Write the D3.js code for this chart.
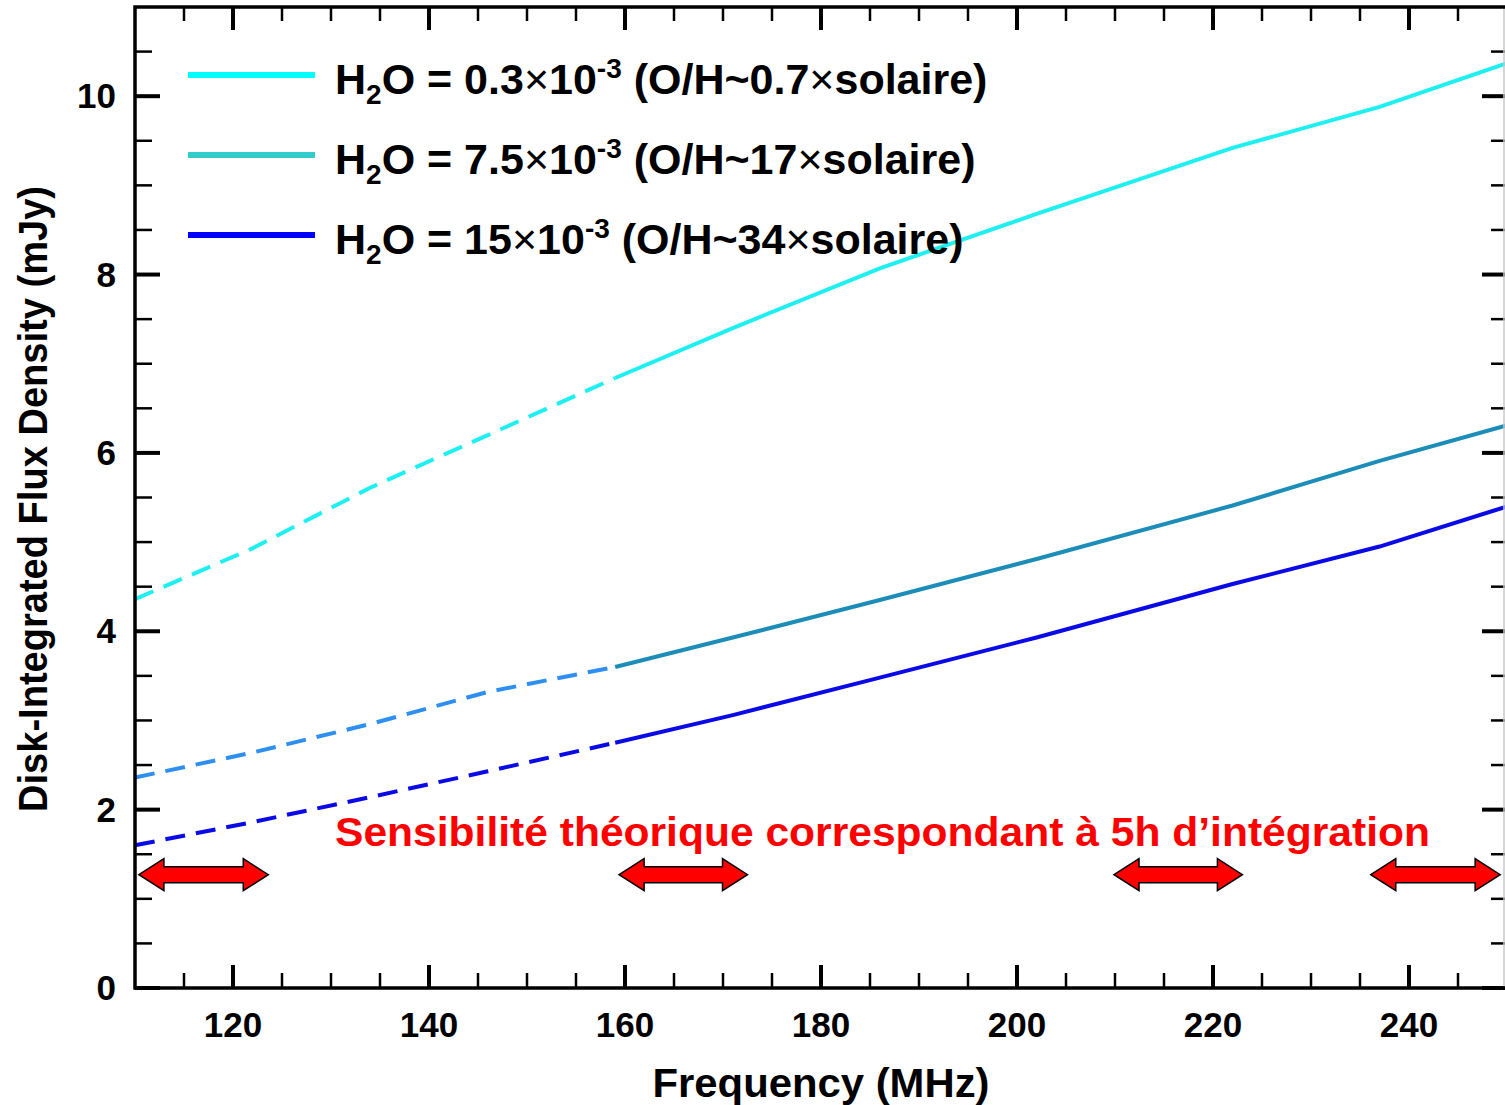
<!DOCTYPE html>
<html>
<head>
<meta charset="utf-8">
<script src="https://cdn.jsdelivr.net/npm/d3@7"></script>
<style>
  body { margin: 0; background: white; }
  svg { display: block; font-family: Arial, "Liberation Sans", sans-serif; font-weight: bold; }
</style>
</head>
<body>
<div id="chart"></div>
<script>
// frequency samples (MHz)
var freqs = [110, 122, 134, 146, 159, 171, 186, 202, 222, 237, 250];

// disk-integrated flux density (mJy) for each water abundance
var flux_low  = [4.36, 4.93, 5.61, 6.20, 6.84, 7.40, 8.07, 8.68, 9.42, 9.88, 10.37];
var flux_mid  = [2.36, 2.64, 2.96, 3.32, 3.60, 3.93, 4.35, 4.81, 5.41, 5.91, 6.31];
var flux_high = [1.60, 1.86, 2.14, 2.43, 2.75, 3.06, 3.48, 3.93, 4.53, 4.95, 5.40];

// below this frequency the curves are dashed
var dash_limit = 159;

// sensitivity arrows (start / end frequency) and level
var arrow_start = [110.4, 159.4, 209.9, 236.1];
var arrow_end   = [123.6, 172.5, 223.0, 249.3];
var sens_level  = 1.27;

var legend_abund = ['0.3', '7.5', '15'];
var legend_ratio = ['0.7', '17', '34'];

var x_ticks = [120, 140, 160, 180, 200, 220, 240];
var y_ticks = [0, 2, 4, 6, 8, 10];

var width = 1505, height = 1105;

var svg = d3.select('#chart').append('svg')
    .attr('width', width)
    .attr('height', height);

var x = d3.scaleLinear().domain([110, 250]).range([135, 1507]);
var y = d3.scaleLinear().domain([0, 11]).range([988, 7]);

var series = [
    {vals: flux_low,  dash_col: '#1ef0f2', solid_col: '#1ef0f2', leg_col: '#00ffff'},
    {vals: flux_mid,  dash_col: '#2e8ff0', solid_col: '#1c8db8', leg_col: '#33cccc'},
    {vals: flux_high, dash_col: '#0a0ae6', solid_col: '#0a0ae6', leg_col: '#0000ff'}
];

//draw curves
var line = d3.line()
    .x(function(d) {return x(d.f);})
    .y(function(d) {return y(d.v);});

series.forEach(function(s) {
    var pts = freqs.map(function(f, i) {return {f: f, v: s.vals[i]};});
    var dashed = pts.filter(function(d) {return d.f <= dash_limit;});
    var solid = pts.filter(function(d) {return d.f >= dash_limit;});

    svg.append('path')
        .datum(dashed)
        .attr('d', line)
        .style('fill', 'none')
        .style('stroke', s.dash_col)
        .style('stroke-width', 4)
        .style('stroke-dasharray', '20,11');

    svg.append('path')
        .datum(solid)
        .attr('d', line)
        .style('fill', 'none')
        .style('stroke', s.solid_col)
        .style('stroke-width', 4);
});

//frame and ticks
var x_minor = d3.range(115, 250, 5).filter(function(f) {return f % 20 != 0;});
var y_minor = d3.range(0.5, 11, 0.5).filter(function(v) {return v % 2 != 0;});

function tick_lines(cls, data, fn, w) {
    svg.selectAll('.' + cls)
        .data(data)
        .enter()
        .append('line')
        .attr('class', cls)
        .each(fn)
        .style('stroke', 'black')
        .style('stroke-width', w);
}

// bottom / top
tick_lines('xb_major', x_ticks, function(d) {
    d3.select(this).attr('x1', x(d)).attr('x2', x(d)).attr('y1', 988).attr('y2', 965);
}, 4);
tick_lines('xb_minor', x_minor, function(d) {
    d3.select(this).attr('x1', x(d)).attr('x2', x(d)).attr('y1', 988).attr('y2', 973);
}, 2.5);
tick_lines('xt_major', x_ticks, function(d) {
    d3.select(this).attr('x1', x(d)).attr('x2', x(d)).attr('y1', 7).attr('y2', 30);
}, 4);
tick_lines('xt_minor', x_minor, function(d) {
    d3.select(this).attr('x1', x(d)).attr('x2', x(d)).attr('y1', 7).attr('y2', 21);
}, 2.5);

// left / right
tick_lines('yl_major', y_ticks, function(d) {
    d3.select(this).attr('x1', 135).attr('x2', 160).attr('y1', y(d)).attr('y2', y(d));
}, 4);
tick_lines('yl_minor', y_minor, function(d) {
    d3.select(this).attr('x1', 135).attr('x2', 152).attr('y1', y(d)).attr('y2', y(d));
}, 2.5);
tick_lines('yr_major', y_ticks, function(d) {
    d3.select(this).attr('x1', 1482).attr('x2', 1505).attr('y1', y(d)).attr('y2', y(d));
}, 4);
tick_lines('yr_minor', y_minor, function(d) {
    d3.select(this).attr('x1', 1491).attr('x2', 1505).attr('y1', y(d)).attr('y2', y(d));
}, 2.5);

svg.append('line')
    .attr('x1', 1504).attr('x2', 1504).attr('y1', 7).attr('y2', 988)
    .style('stroke', '#c8c8c8').style('stroke-width', 1.5);

svg.append('path')
    .attr('d', 'M1505,' + y(11) + 'H' + x(110) + 'V' + y(0) + 'H1505')
    .style('fill', 'none')
    .style('stroke', 'black')
    .style('stroke-width', 3.5);

//tick labels
svg.selectAll('.x_label')
    .data(x_ticks)
    .enter()
    .append('text')
    .attr('class', 'x_label')
    .attr('x', function(d) {return x(d);})
    .attr('y', 1037)
    .style('text-anchor', 'middle')
    .style('font-size', '35px')
    .text(function(d) {return d;});

svg.selectAll('.y_label')
    .data(y_ticks)
    .enter()
    .append('text')
    .attr('class', 'y_label')
    .attr('x', 116)
    .attr('y', function(d) {return y(d) + 12;})
    .style('text-anchor', 'end')
    .style('font-size', '35px')
    .text(function(d) {return d;});

//axis titles
svg.append('text')
    .attr('x', 821)
    .attr('y', 1097)
    .style('text-anchor', 'middle')
    .style('font-size', '41px')
    .attr('textLength', 337)
    .attr('lengthAdjust', 'spacingAndGlyphs')
    .text('Frequency (MHz)');

svg.append('text')
    .attr('transform', 'translate(47,499) rotate(-90)')
    .style('text-anchor', 'middle')
    .style('font-size', '40px')
    .attr('textLength', 626)
    .attr('lengthAdjust', 'spacingAndGlyphs')
    .text('Disk-Integrated Flux Density (mJy)');

//legend
var legend_y = [75, 155, 235];
legend_abund.forEach(function(a, i) {
    svg.append('line')
        .attr('x1', 188).attr('x2', 315)
        .attr('y1', legend_y[i]).attr('y2', legend_y[i])
        .style('stroke', series[i].leg_col)
        .style('stroke-width', 6);

    var t = svg.append('text')
        .attr('x', 335)
        .attr('y', legend_y[i] + 19)
        .style('font-size', '43px');
    t.append('tspan').text('H');
    t.append('tspan').attr('dy', 10).style('font-size', '28px').text('2');
    t.append('tspan').attr('dy', -10).text('O = ' + a);
    t.append('tspan').style('font-weight', 'normal').text('×');
    t.append('tspan').text('10');
    t.append('tspan').attr('dy', -16).style('font-size', '28px').text('-3');
    t.append('tspan').attr('dy', 16).text(' (O/H~' + legend_ratio[i]);
    t.append('tspan').style('font-weight', 'normal').text('×');
    t.append('tspan').text('solaire)');
});

//sensitivity text
svg.append('text')
    .attr('x', 335)
    .attr('y', 846)
    .style('fill', '#ff0000')
    .style('font-size', '40px')
    .attr('textLength', 1095)
    .attr('lengthAdjust', 'spacingAndGlyphs')
    .text('Sensibilité théorique correspondant à 5h d’intégration');

//double arrows
function arrow_path(x0, x1, yc) {
    var head = 25, half_h = 16, half_s = 8;
    return 'M' + x0 + ',' + yc +
        'L' + (x0 + head) + ',' + (yc - half_h) +
        'V' + (yc - half_s) +
        'H' + (x1 - head) +
        'V' + (yc - half_h) +
        'L' + x1 + ',' + yc +
        'L' + (x1 - head) + ',' + (yc + half_h) +
        'V' + (yc + half_s) +
        'H' + (x0 + head) +
        'V' + (yc + half_h) + 'Z';
}

svg.selectAll('.sens_arrow')
    .data(arrow_start)
    .enter()
    .append('path')
    .attr('class', 'sens_arrow')
    .attr('d', function(d, i) {return arrow_path(x(d), x(arrow_end[i]), y(sens_level));})
    .style('fill', '#ff0000')
    .style('stroke', 'black')
    .style('stroke-width', 1.5);
</script>
</body>
</html>
